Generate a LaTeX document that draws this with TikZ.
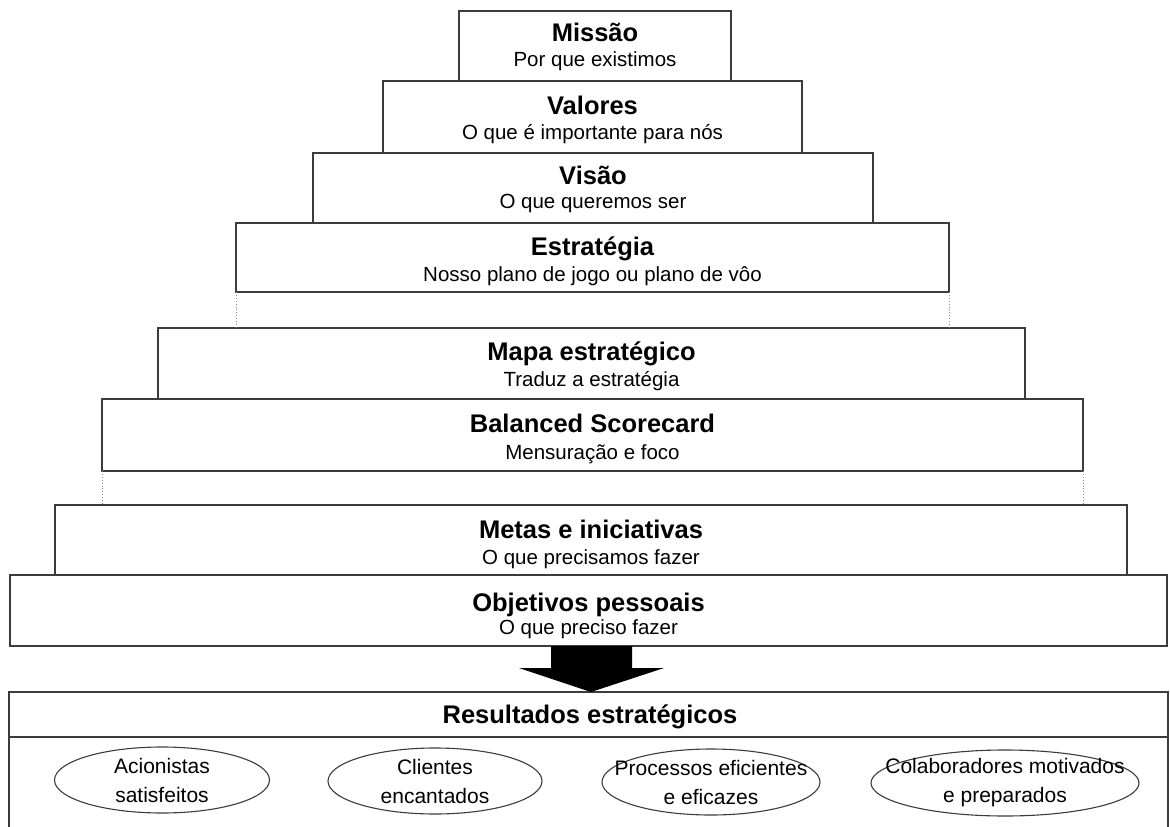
\documentclass[tikz,border=0pt]{standalone}
\usepackage{fontspec}
\setmainfont{Liberation Sans}
\usetikzlibrary{shapes.geometric}
\definecolor{edge}{HTML}{3C3C3C}
\definecolor{guide}{HTML}{8A8A8A}

% one level of the pyramid:
% name, left, right, top, bottom, title, subtitle, title baseline, subtitle baseline
\newcommand\pyrtier[9]{%
  \node[tierbox, minimum width={#3-#2}, minimum height={#5-#4}]
    (#1) at ({(#2+#3)/2},{(#4+#5)/2}) {};
  \node[ttl] (#1-title) at ({(#2+#3)/2},#8) {#6};
  \node[sub] (#1-sub) at ({(#2+#3)/2},#9) {#7};
}

% one outcome: name, centre x, centre y, width, text
\newcommand\outcome[5]{%
  \node[result, minimum width=#4] (#1) at (#2,#3) {};
  \node[resulttext] (#1-text) at (#1.center) {#5};
}

\begin{document}
\begin{tikzpicture}[x=1pt,y=-1pt,
  tierbox/.style={draw=edge, line width=1.3pt, fill=white, rectangle,
                  inner sep=0pt, outer sep=0pt},
  ttl/.style={anchor=base, inner sep=0pt,
              font=\fontsize{25.5}{30}\selectfont\bfseries},
  sub/.style={anchor=base, inner sep=0pt,
              font=\fontsize{20.5}{24}\selectfont},
  result/.style={draw=edge, line width=1.1pt, ellipse, inner sep=0pt,
                 minimum height=66pt},
  resulttext/.style={inner sep=0pt, align=center,
                     font=\fontsize{21}{29}\selectfont},
  guideline/.style={draw=guide, line width=0.9pt, dotted}
]
\clip (0,0) rectangle (1170,827);
\fill[white] (0,0) rectangle (1170,827);

% pyramid levels, top to bottom
\pyrtier{missao}{459}{731}{11}{81}{Missão}{Por que existimos}{41}{66}
\pyrtier{valores}{383}{802}{81}{153}{Valores}{O que é importante para nós}{114}{139}
\pyrtier{visao}{313}{873}{153}{223}{Visão}{O que queremos ser}{184}{208}
\pyrtier{estrategia}{236}{949}{223}{292}{Estratégia}{Nosso plano de jogo ou plano de vôo}{255}{281}
\pyrtier{mapa}{158}{1025}{328}{399}{Mapa estratégico}{Traduz a estratégia}{360}{386}
\pyrtier{bsc}{102}{1083}{399}{471}{Balanced Scorecard}{Mensuração e foco}{432}{459}
\pyrtier{metas}{55}{1127}{505}{575}{Metas e iniciativas}{O que precisamos fazer}{538}{564}
\pyrtier{objetivos}{10}{1167}{575}{646}{Objetivos pessoais}{O que preciso fazer}{611}{634}

% dotted guides across the gaps
\draw[guideline] (estrategia.south west) -- (estrategia.south west |- mapa.north);
\draw[guideline] (estrategia.south east) -- (estrategia.south east |- mapa.north);
\draw[guideline] (bsc.south west) -- (bsc.south west |- metas.north);
\draw[guideline] (bsc.south east) -- (bsc.south east |- metas.north);

% results panel: header row, sides running off the bottom edge
\node[tierbox, minimum width=1159, minimum height=45] (resultados) at (588.5,714.5) {};
\node[ttl] (resultados-title) at (590,723) {Resultados estratégicos};
\draw[edge, line width=1.3pt] (resultados.south west) -- ++(0,120);
\draw[edge, line width=1.3pt] (resultados.south east) -- ++(0,120);

% big arrow from the personal objectives to the results
\coordinate (arrowtop) at (591,646);
\coordinate (arrowtip) at (591,692);
\fill[black] ([xshift=-40pt]arrowtop) -- ([xshift=41pt]arrowtop)
  -- (632,668) -- (664,668) -- (arrowtip) -- (519,668) -- (551,668) -- cycle;

% strategic outcomes
\outcome{acionistas}{162}{780}{215}{Acionistas\\satisfeitos}
\outcome{clientes}{435}{781}{214}{Clientes\\encantados}
\outcome{processos}{711}{782}{218}{Processos eficientes\\e eficazes}
\outcome{colaboradores}{1005}{783}{268}{Colaboradores motivados\\e preparados}
\end{tikzpicture}
\end{document}
